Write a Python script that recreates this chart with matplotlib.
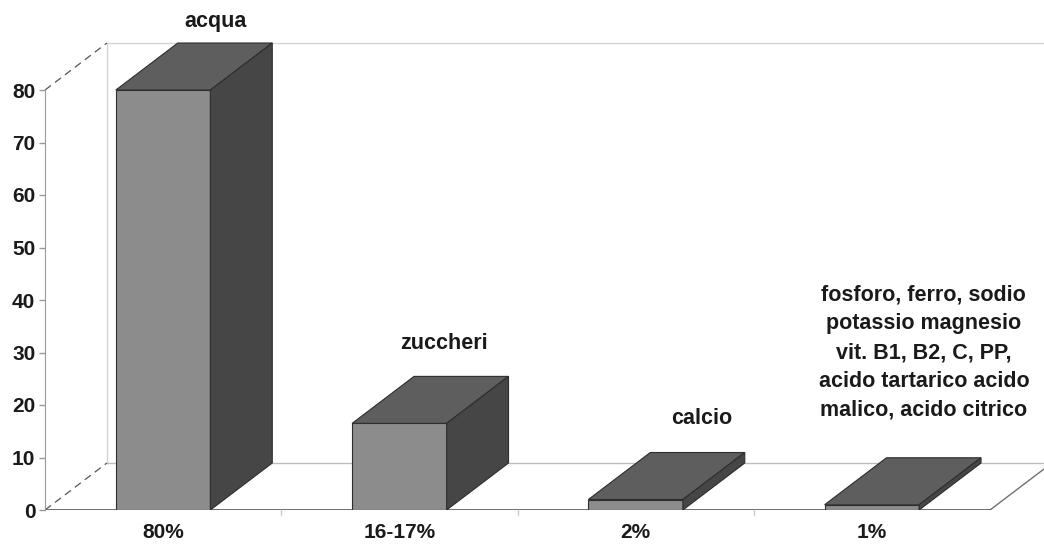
import matplotlib
matplotlib.use("Agg")
import matplotlib.pyplot as plt
from matplotlib.patches import Polygon

plt.rcParams['font.family'] = ['Liberation Sans', 'DejaVu Sans']

# composition of the fruit (percent)
categories = ["80%", "16-17%", "2%", "1%"]
values = [80, 16.5, 2, 1]
components = [
    "acqua",
    "zuccheri",
    "calcio",
    "fosforo, ferro, sodio\npotassio magnesio\nvit. B1, B2, C, PP,\nacido tartarico acido\nmalico, acido citrico",
]
y_ticks = [0, 10, 20, 30, 40, 50, 60, 70, 80]

# label anchor positions (category units, value units)
label_pos = [(0.72, 93.0), (1.69, 31.8), (2.78, 17.5), (3.72, 30.0)]

# pseudo-3D depth offset
DX = 0.262   # in category units
DY = 8.95    # in value units
BAR_W = 0.40
YMAX = 80

FRONT = "#8c8c8c"
TOP = "#5e5e5e"
SIDE = "#464646"
EDGE = "#2e2e2e"

fig = plt.figure(figsize=(10.44, 5.44), dpi=100)
ax = fig.add_axes([45 / 1044, 34 / 544, 999 / 1044, 510 / 544])
n = len(categories)
ax.set_xlim(0, 999 / 236.25)
ax.set_ylim(0, 510 / 5.25)

# back wall and floor
ax.plot([DX, DX, 6], [DY, YMAX + DY, YMAX + DY], color="#d4d4d4", lw=1.0, zorder=1)
ax.plot([DX, 6], [DY, DY], color="#bdbdbd", lw=1.0, zorder=1)
ax.plot([0, DX], [YMAX, YMAX + DY], color="#555555", lw=0.9, ls=(0, (6, 4)), zorder=1)
ax.plot([0, DX], [0, DY], color="#555555", lw=0.9, ls=(0, (6, 4)), zorder=1)
ax.plot([n, n + DX], [0, DY], color="#707070", lw=1.0, zorder=1)
ax.plot([0, n], [0, 0], color="#555555", lw=1.2, zorder=2)
for k in range(1, n):
    ax.plot([k, k], [0, -0.9], color="#cccccc", lw=1.0, zorder=2, clip_on=False)

# bars
for i, v in enumerate(values):
    x0 = i + 0.5 - BAR_W / 2
    x1 = x0 + BAR_W
    front = Polygon([(x0, 0), (x1, 0), (x1, v), (x0, v)], closed=True,
                    facecolor=FRONT, edgecolor=EDGE, lw=0.8, zorder=3)
    top = Polygon([(x0, v), (x1, v), (x1 + DX, v + DY), (x0 + DX, v + DY)], closed=True,
                  facecolor=TOP, edgecolor=EDGE, lw=0.8, zorder=3)
    side = Polygon([(x1, 0), (x1 + DX, DY), (x1 + DX, v + DY), (x1, v)], closed=True,
                   facecolor=SIDE, edgecolor=EDGE, lw=0.8, zorder=3)
    for p in (front, top, side):
        ax.add_patch(p)

for (tx, ty), txt in zip(label_pos, components):
    ax.text(tx, ty, txt, ha="center", va="center", fontsize=15.5, fontweight="bold",
            color="#1a1a1a", linespacing=1.47, zorder=4)

# axes
for s in ("top", "right", "bottom"):
    ax.spines[s].set_visible(False)
ax.spines["left"].set_bounds(0, YMAX)
ax.spines["left"].set_color("#9a9a9a")
ax.set_yticks(y_ticks)
ax.set_yticklabels([str(t) for t in y_ticks])
ax.tick_params(axis="y", length=4, width=1, color="#9a9a9a", pad=3,
               labelsize=15, labelcolor="#1a1a1a")
ax.set_xticks([i + 0.5 for i in range(n)])
ax.set_xticklabels(categories)
ax.tick_params(axis="x", length=0, pad=9, labelsize=15, labelcolor="#1a1a1a")
for lab in ax.get_xticklabels() + ax.get_yticklabels():
    lab.set_fontweight("bold")

fig.savefig("out.png", dpi=100)
